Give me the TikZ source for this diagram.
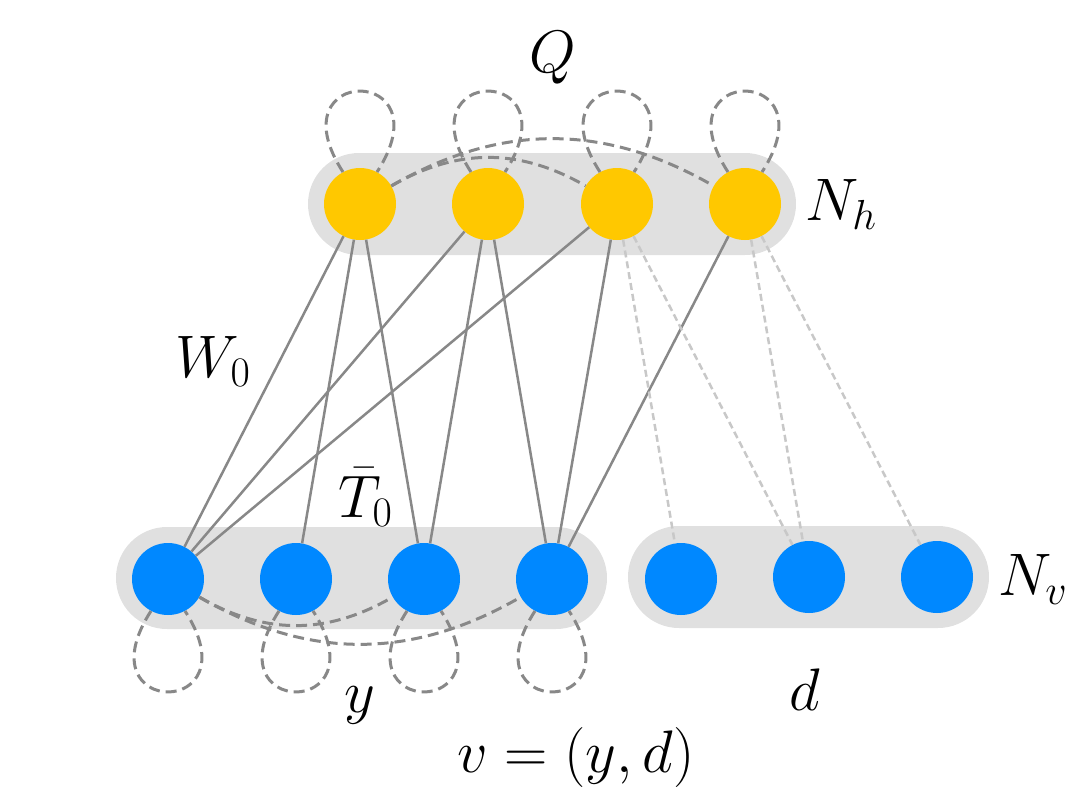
\RequirePackage{fix-cm}
\documentclass[tikz,border=0pt]{standalone}
\definecolor{hid}{RGB}{255,200,0}
\definecolor{vis}{RGB}{0,136,255}
\definecolor{bgc}{RGB}{224,224,224}
\definecolor{edg}{RGB}{136,136,136}
\definecolor{ledg}{RGB}{200,200,200}
\begin{document}
\begin{tikzpicture}[x=1pt,y=-1pt,
  hnode/.style={circle,fill=hid,minimum size=72pt,inner sep=0pt},
  vnode/.style={circle,fill=vis,minimum size=72pt,inner sep=0pt},
  bgbox/.style={rectangle,fill=bgc,rounded corners=51pt,minimum height=102pt,inner sep=0pt},
  wedge/.style={draw=edg,line width=2.5pt},
  ghost/.style={draw=ledg,line width=2.5pt,dash pattern=on 7pt off 4pt},
  qedge/.style={draw=edg,line width=3pt,dash pattern=on 11pt off 6pt},
  lbl/.style={font=\fontsize{60}{70}\selectfont,inner sep=0pt}]
\useasboundingbox (0,0) rectangle (1066,790);
% group backgrounds
\node[bgbox,minimum width=488pt] (hbg) at (552,204) {};
\node[bgbox,minimum width=491pt] (vbg1) at (361.5,578) {};
\node[bgbox,minimum width=361pt] (vbg2) at (808.5,577) {};
% hidden units
\node[hnode] (h1) at (360,204) {};
\node[hnode] (h2) at (488,204) {};
\node[hnode] (h3) at (617,204) {};
\node[hnode] (h4) at (745,204) {};
% visible units
\node[vnode] (v1) at (168,579) {};
\node[vnode] (v2) at (296,579) {};
\node[vnode] (v3) at (424,579) {};
\node[vnode] (v4) at (552,579) {};
\node[vnode] (v5) at (681,579) {};
\node[vnode] (v6) at (809,577) {};
\node[vnode] (v7) at (937,577) {};
% weights W0
\draw[wedge] (h1) -- (v1);
\draw[wedge] (h1) -- (v2);
\draw[wedge] (h1) -- (v3);
\draw[wedge] (h2) -- (v1);
\draw[wedge] (h2) -- (v3);
\draw[wedge] (h2) -- (v4);
\draw[wedge] (h3) -- (v1);
\draw[wedge] (h3) -- (v4);
\draw[wedge] (h4) -- (v4);
% ghost edges to d
\draw[ghost] (h3) -- (v5);
\draw[ghost] (h3) -- (v6);
\draw[ghost] (h4) -- (v6);
\draw[ghost] (h4) -- (v7);
% Q couplings
\draw[qedge] (h1.30) .. controls +(66,-38) and +(-66,-38) .. (h3.150);
\draw[qedge] (h1.30) .. controls +(109,-63) and +(-109,-63) .. (h4.150);
\foreach \n in {h1,h2,h3,h4}
  \draw[qedge] (\n.118) .. controls +(-70,-108) and +(70,-108) .. (\n.62);
% T0 couplings
\draw[qedge] (v1.-30) .. controls +(66,38) and +(-66,38) .. (v3.-150);
\draw[qedge] (v1.-30) .. controls +(109,63) and +(-109,63) .. (v4.-150);
\foreach \n in {v1,v2,v3,v4}
  \draw[qedge] (\n.-118) .. controls +(-70,108) and +(70,108) .. (\n.-62);
% labels
\node[lbl,anchor=base] (lq) at (553,72) {$Q$};
\node[lbl,anchor=base west] (lnh) at (805,220) {$N_h$};
\node[lbl,anchor=base west] (lw) at (175,377) {$W_0$};
\node[lbl,anchor=base west] (lt) at (338,517) {$\bar{T}_0$};
\node[lbl,anchor=base west] (lnv) at (998,595) {$N_v$};
\node[lbl,anchor=base] (ly) at (360,712) {$y$};
\node[lbl,anchor=base] (ld) at (805,710) {$d$};
\node[lbl,anchor=base] (lv) at (576,772) {$v=(y,d)$};
\end{tikzpicture}
\end{document}
